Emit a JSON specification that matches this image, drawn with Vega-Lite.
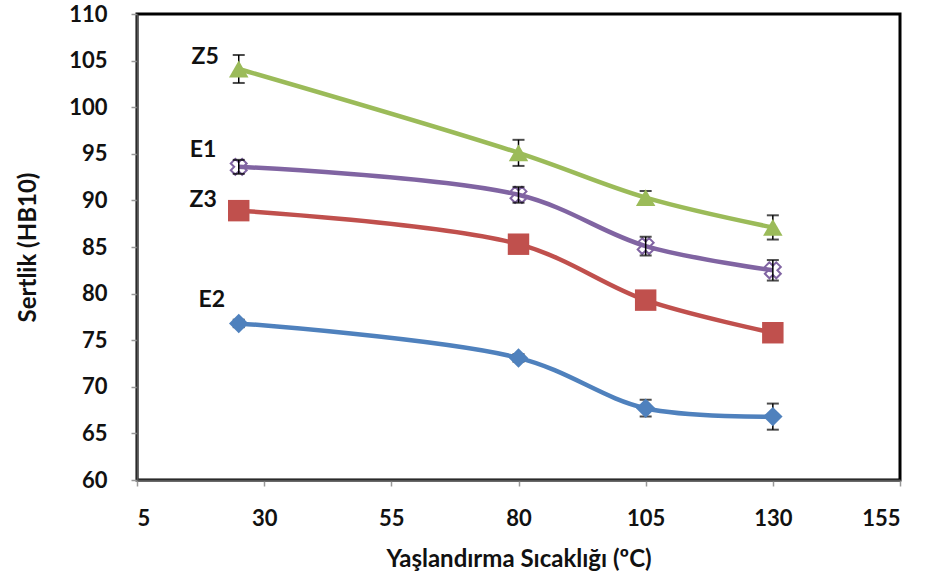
{
  "$schema": "https://vega.github.io/schema/vega-lite/v6.json",
  "width": 763,
  "height": 466,
  "autosize": "none",
  "padding": {"left": 137, "top": 14, "right": 25, "bottom": 106},
  "background": "white",
  "config": {
    "view": {"stroke": "black", "strokeWidth": 3},
    "font": "Lato"
  },
  "datasets": {
    "pts": [
      {"T": 25, "H": 104.1, "err": 1.5, "s": "Z5"},
      {"T": 80, "H": 95.1, "err": 1.4, "s": "Z5"},
      {"T": 105, "H": 90.3, "err": 0.7, "s": "Z5"},
      {"T": 130, "H": 87.1, "err": 1.3, "s": "Z5"},
      {"T": 25, "H": 93.6, "err": 0.75, "s": "E1"},
      {"T": 80, "H": 90.6, "err": 0.85, "s": "E1"},
      {"T": 105, "H": 85.1, "err": 1.0, "s": "E1"},
      {"T": 130, "H": 82.5, "err": 1.1, "s": "E1"},
      {"T": 25, "H": 88.9, "err": 0.5, "s": "Z3"},
      {"T": 80, "H": 85.3, "err": 0.5, "s": "Z3"},
      {"T": 105, "H": 79.3, "err": 0.5, "s": "Z3"},
      {"T": 130, "H": 75.8, "err": 0.5, "s": "Z3"},
      {"T": 25, "H": 76.8, "err": 0.4, "s": "E2"},
      {"T": 80, "H": 73.1, "err": 0.4, "s": "E2"},
      {"T": 105, "H": 67.7, "err": 0.9, "s": "E2"},
      {"T": 130, "H": 66.8, "err": 1.4, "s": "E2"}
    ],
    "labels": [
      {"T": 18.4, "H": 105.4, "s": "Z5"},
      {"T": 18.0, "H": 95.4, "s": "E1"},
      {"T": 18.0, "H": 90.0, "s": "Z3"},
      {"T": 19.7, "H": 79.3, "s": "E2"}
    ]
  },
  "encoding": {
    "x": {
      "field": "T", "type": "quantitative",
      "scale": {"domain": [5, 155], "nice": false, "zero": false},
      "axis": {
        "values": [5, 30, 55, 80, 105, 130, 155],
        "title": "Yaşlandırma Sıcaklığı (ºC)",
        "titleFont": "Lato", "titleFontSize": 24, "titleFontWeight": "bold", "titleColor": "#111",
        "titlePadding": 18,
        "labelFont": "Lato", "labelFontSize": 22, "labelFontWeight": "bold", "labelColor": "#111",
        "labelPadding": 22,
        "grid": false, "domainColor": "#555", "domainWidth": 2,
        "tickColor": "#999", "tickSize": 6, "tickWidth": 1.5
      }
    },
    "y": {
      "field": "H", "type": "quantitative",
      "scale": {"domain": [60, 110], "nice": false, "zero": false},
      "axis": {
        "values": [60, 65, 70, 75, 80, 85, 90, 95, 100, 105, 110],
        "title": "Sertlik (HB10)",
        "titleFont": "Lato", "titleFontSize": 24, "titleFontWeight": "bold", "titleColor": "#111",
        "titlePadding": 28,
        "labelFont": "Lato", "labelFontSize": 22, "labelFontWeight": "bold", "labelColor": "#111",
        "labelPadding": 24,
        "grid": false, "domainColor": "#555", "domainWidth": 2,
        "tickColor": "#999", "tickSize": 6, "tickWidth": 1.5
      }
    }
  },
  "layer": [
    {
      "data": {"name": "pts"},
      "mark": {"type": "line", "interpolate": "catmull-rom", "strokeWidth": 4.5},
      "encoding": {
        "detail": {"field": "s"},
        "color": {
          "field": "s", "type": "nominal", "legend": null,
          "scale": {"domain": ["Z5", "E1", "Z3", "E2"], "range": ["#9BBB59", "#8064A2", "#C0504D", "#4F81BD"]}
        }
      }
    },
    {
      "data": {"name": "pts"},
      "transform": [{"filter": "datum.s == 'E1'"}],
      "mark": {"type": "point", "shape": "cross", "angle": 45, "filled": false, "size": 260, "strokeWidth": 2, "opacity": 1},
      "encoding": {"color": {"value": "#8064A2"}}
    },
    {
      "data": {"name": "pts"},
      "mark": {"type": "errorbar", "ticks": {"color": "black", "size": 12, "thickness": 2}, "rule": {"color": "black", "strokeWidth": 1.5}},
      "encoding": {
        "y": {"field": "H", "type": "quantitative"},
        "yError": {"field": "err"}
      }
    },
    {
      "data": {"name": "pts"},
      "transform": [{"filter": "datum.s == 'Z3'"}],
      "mark": {"type": "point", "shape": "square", "filled": true, "size": 460, "opacity": 1},
      "encoding": {"color": {"value": "#C0504D"}}
    },
    {
      "data": {"name": "pts"},
      "transform": [{"filter": "datum.s == 'Z5'"}],
      "mark": {"type": "point", "shape": "triangle-up", "filled": true, "size": 380, "opacity": 1},
      "encoding": {"color": {"value": "#9BBB59"}}
    },
    {
      "data": {"name": "pts"},
      "transform": [{"filter": "datum.s == 'E2'"}],
      "mark": {"type": "point", "shape": "diamond", "filled": true, "size": 380, "opacity": 1},
      "encoding": {"color": {"value": "#4F81BD"}}
    },
    {
      "data": {"name": "labels"},
      "mark": {"type": "text", "font": "Lato", "fontSize": 23, "fontWeight": "bold", "color": "#111"},
      "encoding": {"text": {"field": "s"}}
    }
  ]
}
